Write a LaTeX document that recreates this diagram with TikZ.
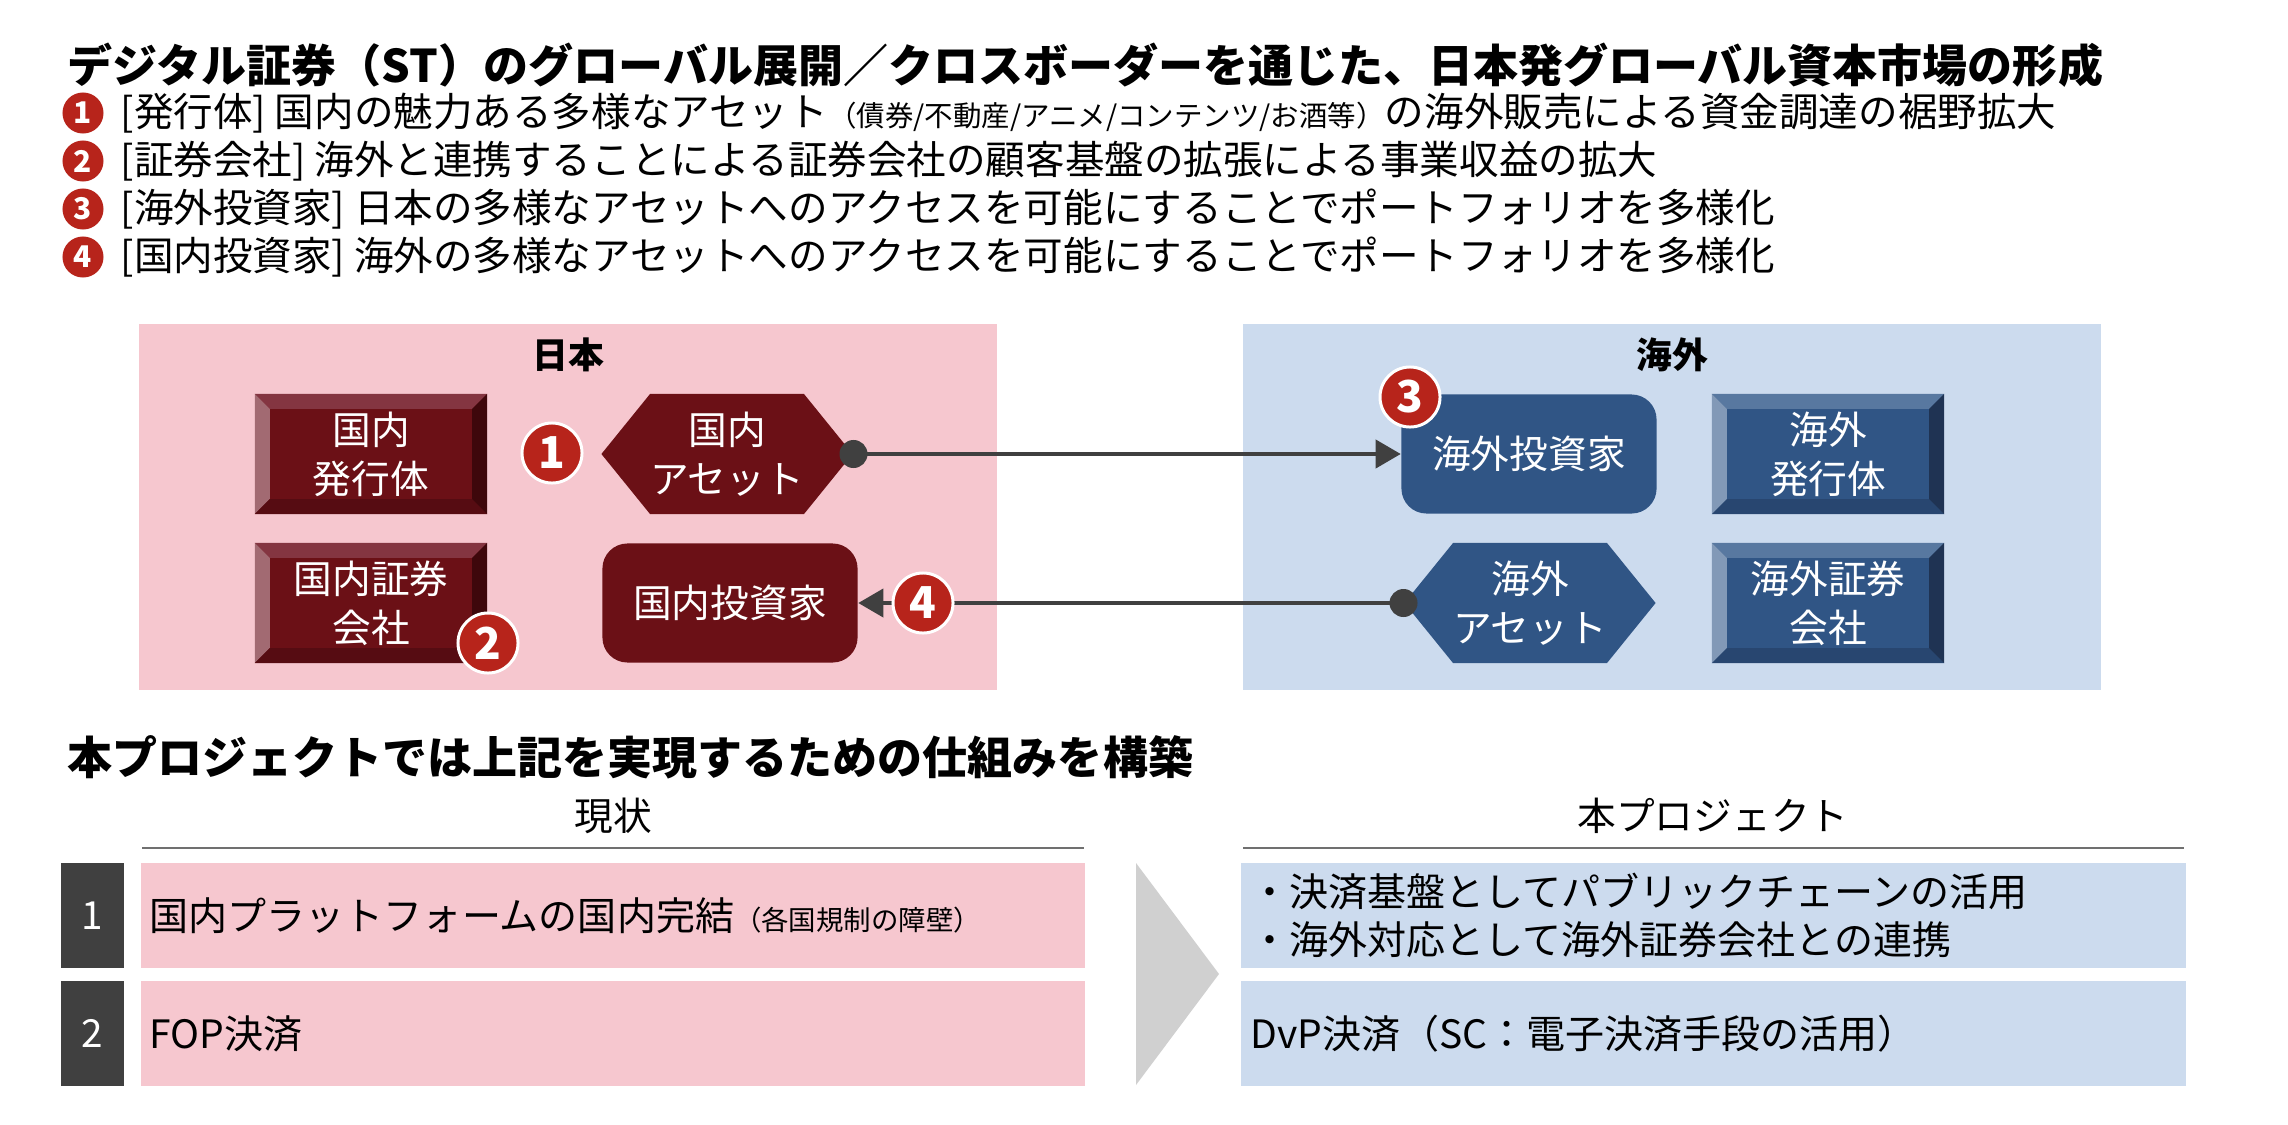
\documentclass[tikz,border=0pt]{standalone}
\usepackage{fontspec}
\setmainfont{Noto Sans CJK JP}
\usetikzlibrary{shapes.symbols,arrows.meta}

\definecolor{jpbg}{HTML}{F6C7CF}
\definecolor{ovbg}{HTML}{CCDBEE}
\definecolor{jpmain}{HTML}{6B1016}
\definecolor{jptop}{HTML}{843541}
\definecolor{jpleft}{HTML}{A26A72}
\definecolor{jpbot}{HTML}{560C12}
\definecolor{jpright}{HTML}{3E070B}
\definecolor{ovmain}{HTML}{305585}
\definecolor{ovtop}{HTML}{5878A0}
\definecolor{ovleft}{HTML}{8299B7}
\definecolor{ovbot}{HTML}{284670}
\definecolor{ovright}{HTML}{1F3353}
\definecolor{numred}{HTML}{B7241B}
\definecolor{linegray}{HTML}{404040}
\definecolor{chevgray}{HTML}{D0D0D0}
\definecolor{rulegray}{HTML}{707070}

\newcommand\bvl{0.15cm}
\newcommand\pbb{path picture bounding box}

\tikzset{
  boxtext/.style={text=white, align=center, inner sep=0pt, font=\fontsize{11}{13.9}\selectfont},
  bevel/.style n args={5}{boxtext, rectangle, fill=#1, minimum width=2.32cm, minimum height=1.2cm,
    path picture={
      \fill[#2] (\pbb.north west) -- (\pbb.north east) -- ([shift={(-\bvl,-\bvl)}]\pbb.north east) -- ([shift={(\bvl,-\bvl)}]\pbb.north west) -- cycle;
      \fill[#3] (\pbb.north west) -- ([shift={(\bvl,-\bvl)}]\pbb.north west) -- ([shift={(\bvl,\bvl)}]\pbb.south west) -- (\pbb.south west) -- cycle;
      \fill[#4] (\pbb.south west) -- ([shift={(\bvl,\bvl)}]\pbb.south west) -- ([shift={(-\bvl,\bvl)}]\pbb.south east) -- (\pbb.south east) -- cycle;
      \fill[#5] (\pbb.north east) -- (\pbb.south east) -- ([shift={(-\bvl,\bvl)}]\pbb.south east) -- ([shift={(-\bvl,-\bvl)}]\pbb.north east) -- cycle;
    }},
  jpbevel/.style={bevel={jpmain}{jptop}{jpleft}{jpbot}{jpright}},
  ovbevel/.style={bevel={ovmain}{ovtop}{ovleft}{ovbot}{ovright}},
  asset/.style={boxtext, signal, signal to=east and west, signal pointer angle=102, fill=#1, minimum width=2.5cm, minimum height=1.2cm},
  investor/.style={boxtext, rectangle, rounded corners=0.25cm, fill=#1, minimum width=2.55cm, minimum height=1.19cm},
  numcirc/.style={circle, fill=numred, draw=white, line width=0.85pt, text=white, inner sep=0pt, minimum size=0.6cm, font=\bfseries\fontsize{12.5}{14}\selectfont},
  bulnum/.style={circle, fill=numred, text=white, inner sep=0pt, minimum size=0.41cm, font=\bfseries\fontsize{8.5}{9}\selectfont},
  conn/.style={linegray, line width=1.1pt, -{Triangle[length=0.25cm,width=0.28cm]}},
  heading/.style={inner sep=0pt, font=\bfseries\fontsize{12.8}{15}\selectfont},
  bultext/.style={inner sep=0pt, anchor=west, font=\fontsize{11.25}{13}\selectfont},
  panelttl/.style={inner sep=0pt, font=\bfseries\fontsize{10.2}{12}\selectfont},
  colhead/.style={inner sep=0pt, font=\fontsize{11}{13}\selectfont},
  rowbox/.style={rectangle, fill=#1, minimum height=1.05cm, text width=9.26cm, inner xsep=0.09cm, inner ysep=0pt, align=left, font=\fontsize{11.1}{13.7}\selectfont},
  numbox/.style={rectangle, fill=linegray, text=white, minimum width=0.63cm, minimum height=1.05cm, inner sep=0pt, font=\fontsize{11}{13}\selectfont}
}

\begin{document}
\begin{tikzpicture}[x=0.01cm, y=-0.01cm]
  \useasboundingbox[fill=white] (0,0) rectangle (2288,1124);

  % heading and goals
  \node[heading, anchor=west] (ttl) at (67,65) {デジタル証券（ST）のグローバル展開／クロスボーダーを通じた、日本発グローバル資本市場の形成};
  \node[bulnum] (b1) at (83,113) {1};
  \node[bulnum] (b2) at (83,161) {2};
  \node[bulnum] (b3) at (83,209) {3};
  \node[bulnum] (b4) at (83,257) {4};
  \node[bultext] (t1) at (120,113) {[発行体] 国内の魅力ある多様なアセット{\fontsize{8.1}{10}\selectfont（債券/不動産/アニメ/コンテンツ/お酒等）}の海外販売による資金調達の裾野拡大};
  \node[bultext] (t2) at (120,161) {[証券会社] 海外と連携することによる証券会社の顧客基盤の拡張による事業収益の拡大};
  \node[bultext] (t3) at (120,209) {[海外投資家] 日本の多様なアセットへのアクセスを可能にすることでポートフォリオを多様化};
  \node[bultext] (t4) at (120,257) {[国内投資家] 海外の多様なアセットへのアクセスを可能にすることでポートフォリオを多様化};

  % the two markets
  \fill[jpbg] (139,324) rectangle (997,690);
  \fill[ovbg] (1243,324) rectangle (2101,690);
  \node[panelttl] (jp) at (568,355) {日本};
  \node[panelttl] (ov) at (1672,355) {海外};

  \node[jpbevel] (jpiss) at (371,454) {国内\\発行体};
  \node[asset=jpmain] (jpasset) at (727,454) {国内\\アセット};
  \node[jpbevel] (jpsec) at (371,603) {国内証券\\会社};
  \node[investor=jpmain] (jpinv) at (730,603) {国内投資家};

  \node[investor=ovmain] (ovinv) at (1529,454) {海外投資家};
  \node[ovbevel] (oviss) at (1828,454) {海外\\発行体};
  \node[asset=ovmain] (ovasset) at (1530,603) {海外\\アセット};
  \node[ovbevel] (ovsec) at (1828,603) {海外証券\\会社};

  \draw[conn] (jpasset.east) -- (ovinv.west);
  \draw[conn] (ovasset.west) -- (jpinv.east);
  \fill[linegray] (jpasset.east) circle (0.14cm);
  \fill[linegray] (ovasset.west) circle (0.14cm);

  \node[numcirc] (c1) at (552,453) {1};
  \node[numcirc] (c2) at (488,643) {2};
  \node[numcirc] (c3) at (1410,397) {3};
  \node[numcirc] (c4) at (923,603) {4};

  % current state vs. this project
  \node[heading, anchor=west] (sub) at (67,757) {本プロジェクトでは上記を実現するための仕組みを構築};
  \node[colhead] (now) at (613,816) {現状};
  \node[colhead] (proj) at (1713,816) {本プロジェクト};
  \draw[rulegray, line width=0.6pt] (142,848) -- (1084,848);
  \draw[rulegray, line width=0.6pt] (1243,848) -- (2184,848);

  \node[numbox] (n1) at (92.5,915.5) {1};
  \node[numbox] (n2) at (92.5,1033.5) {2};
  \node[rowbox=jpbg] (r1) at (613,915.5) {国内プラットフォームの国内完結{\fontsize{7.8}{9}\selectfont（各国規制の障壁）}};
  \node[rowbox=jpbg] (r2) at (613,1033.5) {FOP決済};
  \node[rowbox=ovbg] (p1) at (1713.5,915.5) {・決済基盤としてパブリックチェーンの活用\\・海外対応として海外証券会社との連携};
  \node[rowbox=ovbg] (p2) at (1713.5,1033.5) {DvP決済（SC：電子決済手段の活用）};

  \fill[chevgray] (1136,863) -- (1219,974) -- (1136,1085) -- cycle;
\end{tikzpicture}
\end{document}
